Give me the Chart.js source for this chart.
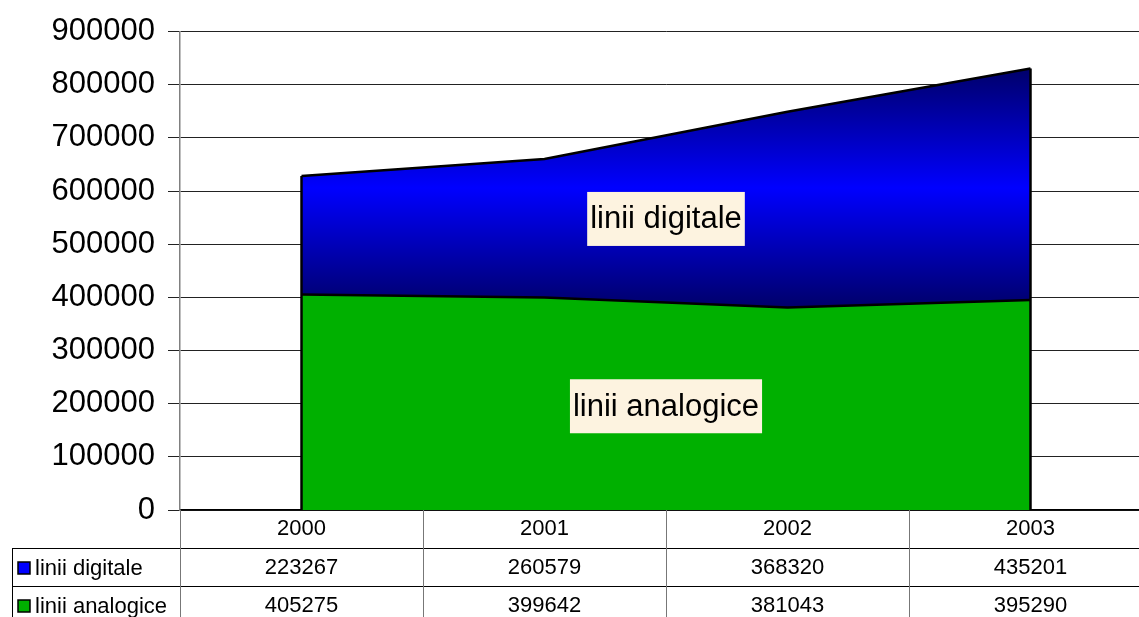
<!DOCTYPE html>
<html>
<head>
<meta charset="utf-8">
<script src="https://cdn.jsdelivr.net/npm/chart.js@4"></script>
<style>
  html, body { margin: 0; padding: 0; background: #fff; overflow: hidden; }
  #wrap { width: 1152px; height: 617px; position: relative; }
</style>
</head>
<body>
<div id="wrap"><canvas id="myChart"></canvas></div>
<script>
const years = ['2000', '2001', '2002', '2003'];
const digitale = [223267, 260579, 368320, 435201];
const analogice = [405275, 399642, 381043, 395290];
const yTicks = [0, 100000, 200000, 300000, 400000, 500000, 600000, 700000, 800000, 900000];

const FONT = '"Liberation Sans", Arial, sans-serif';

// vertical navy -> blue -> navy gradient spanning the blue area
function blueFill(context) {
    const chart = context.chart;
    const y = chart.scales.y;
    if (!y || !chart.chartArea) return '#0000e0';
    let top = Infinity, bottom = -Infinity;
    for (i = 0; i < years.length; i++) {
        top = Math.min(top, y.getPixelForValue(analogice[i] + digitale[i]));
        bottom = Math.max(bottom, y.getPixelForValue(analogice[i]));
    }
    const g = chart.ctx.createLinearGradient(0, top, 0, bottom);
    g.addColorStop(0, '#00006a');
    g.addColorStop(0.5, '#0000ff');
    g.addColorStop(1, '#00006a');
    return g;
}

// black edges at both ends of the stacked areas
const edges = {
    id: 'edges',
    afterDatasetsDraw(chart) {
        const ctx = chart.ctx, x = chart.scales.x, y = chart.scales.y;
        ctx.save();
        ctx.strokeStyle = '#000';
        ctx.lineWidth = 2.5;
        [0, years.length - 1].forEach(function (i) {
            const px = x.getPixelForValue(i);
            ctx.beginPath();
            ctx.moveTo(px, y.getPixelForValue(0));
            ctx.lineTo(px, y.getPixelForValue(analogice[i] + digitale[i]));
            ctx.stroke();
        });
        ctx.restore();
    }
};

// series names boxed inside the areas
const areaLabels = {
    id: 'areaLabels',
    afterDatasetsDraw(chart) {
        const ctx = chart.ctx, x = chart.scales.x, y = chart.scales.y;
        const px = (x.getPixelForValue(1) + x.getPixelForValue(2)) / 2;
        const a = (analogice[1] + analogice[2]) / 2;
        const t = a + (digitale[1] + digitale[2]) / 2;
        const items = [
            ['linii analogice', y.getPixelForValue(a / 2)],
            ['linii digitale', y.getPixelForValue((a + t) / 2)]
        ];
        ctx.save();
        ctx.font = '31px ' + FONT;
        ctx.textAlign = 'center';
        ctx.textBaseline = 'middle';
        items.forEach(function (it) {
            const w = ctx.measureText(it[0]).width + 6;
            ctx.fillStyle = '#fdf3e0';
            ctx.fillRect(px - w / 2, it[1] - 27, w, 54);
            ctx.fillStyle = '#000';
            ctx.fillText(it[0], px, it[1] + 1);
        });
        ctx.restore();
    }
};

// data table below the plot
const dataTable = {
    id: 'dataTable',
    afterDraw(chart) {
        const ctx = chart.ctx, x = chart.scales.x;
        const top = chart.chartArea.bottom;
        const right = chart.width;
        const rowH = 38;
        const colW = x.getPixelForValue(1) - x.getPixelForValue(0);
        const rows = [
            ['linii digitale', digitale, '#0000ff'],
            ['linii analogice', analogice, '#00b000']
        ];
        ctx.save();
        ctx.lineWidth = 1;
        ctx.strokeStyle = '#000';
        for (r = 1; r <= 2; r++) {
            ctx.beginPath();
            ctx.moveTo(12, Math.round(top + r * rowH) + 0.5);
            ctx.lineTo(right, Math.round(top + r * rowH) + 0.5);
            ctx.stroke();
        }
        ctx.strokeStyle = '#777';
        for (i = 0; i < years.length; i++) {
            const bx = Math.round(x.getPixelForValue(i) - colW / 2) + 0.5;
            ctx.beginPath();
            ctx.moveTo(bx, top);
            ctx.lineTo(bx, chart.height);
            ctx.stroke();
        }
        ctx.strokeStyle = '#000';
        ctx.beginPath();
        ctx.moveTo(12.5, top + rowH);
        ctx.lineTo(12.5, chart.height);
        ctx.stroke();

        ctx.font = '22px ' + FONT;
        ctx.textBaseline = 'middle';
        ctx.textAlign = 'center';
        ctx.fillStyle = '#000';
        for (i = 0; i < years.length; i++) {
            const cx = x.getPixelForValue(i);
            ctx.fillText(years[i], cx, top + rowH / 2);
            ctx.fillText(String(rows[0][1][i]), cx, top + rowH * 1.5 + 1);
            ctx.fillText(String(rows[1][1][i]), cx, top + rowH * 2.5 + 1);
        }
        ctx.textAlign = 'left';
        rows.forEach(function (row, r) {
            const cy = top + rowH * (r + 1.5) + 1;
            ctx.fillStyle = row[2];
            ctx.fillRect(18, cy - 6, 12, 12);
            ctx.strokeStyle = '#000';
            ctx.lineWidth = 1.5;
            ctx.strokeRect(18, cy - 6, 12, 12);
            ctx.fillStyle = '#000';
            ctx.fillText(row[0], 35, cy + 1);
        });
        ctx.restore();
    }
};

const data = {
    labels: years,
    datasets: [{
        label: 'linii analogice',
        data: analogice,
        backgroundColor: '#00b000',
        borderColor: '#000',
        borderWidth: 2.5,
        fill: 'origin',
        pointRadius: 0,
        tension: 0,
    }, {
        label: 'linii digitale',
        data: digitale,
        backgroundColor: blueFill,
        borderColor: '#000',
        borderWidth: 2.5,
        fill: '-1',
        pointRadius: 0,
        tension: 0,
    }],
};

const config = {
    type: 'line',
    data: data,
    options: {
        responsive: true,
        maintainAspectRatio: false,
        animation: false,
        layout: { padding: { top: 30, right: 0, left: 0, bottom: 0 } },
        plugins: {
            legend: { display: false },
            tooltip: { enabled: false },
        },
        scales: {
            x: {
                offset: true,
                grid: { display: false, drawTicks: false },
                border: { color: '#000', width: 1.5 },
                ticks: { display: false },
                afterFit: function (scale) { scale.height = 107; }
            },
            y: {
                stacked: true,
                min: 0,
                max: 900000,
                afterBuildTicks: function (scale) {
                    scale.ticks = yTicks.map(function (v) { return { value: v }; });
                },
                grid: { color: '#222', lineWidth: 1, tickLength: 12 },
                border: { color: '#808080', width: 1.5 },
                ticks: {
                    padding: 13,
                    color: '#000',
                    font: { family: FONT, size: 31 },
                    callback: function (v) { return String(v); }
                },
                afterFit: function (scale) { scale.width = 180; }
            }
        }
    },
    plugins: [edges, areaLabels, dataTable]
};

const myChart = new Chart(document.getElementById('myChart'), config);
</script>
</body>
</html>
